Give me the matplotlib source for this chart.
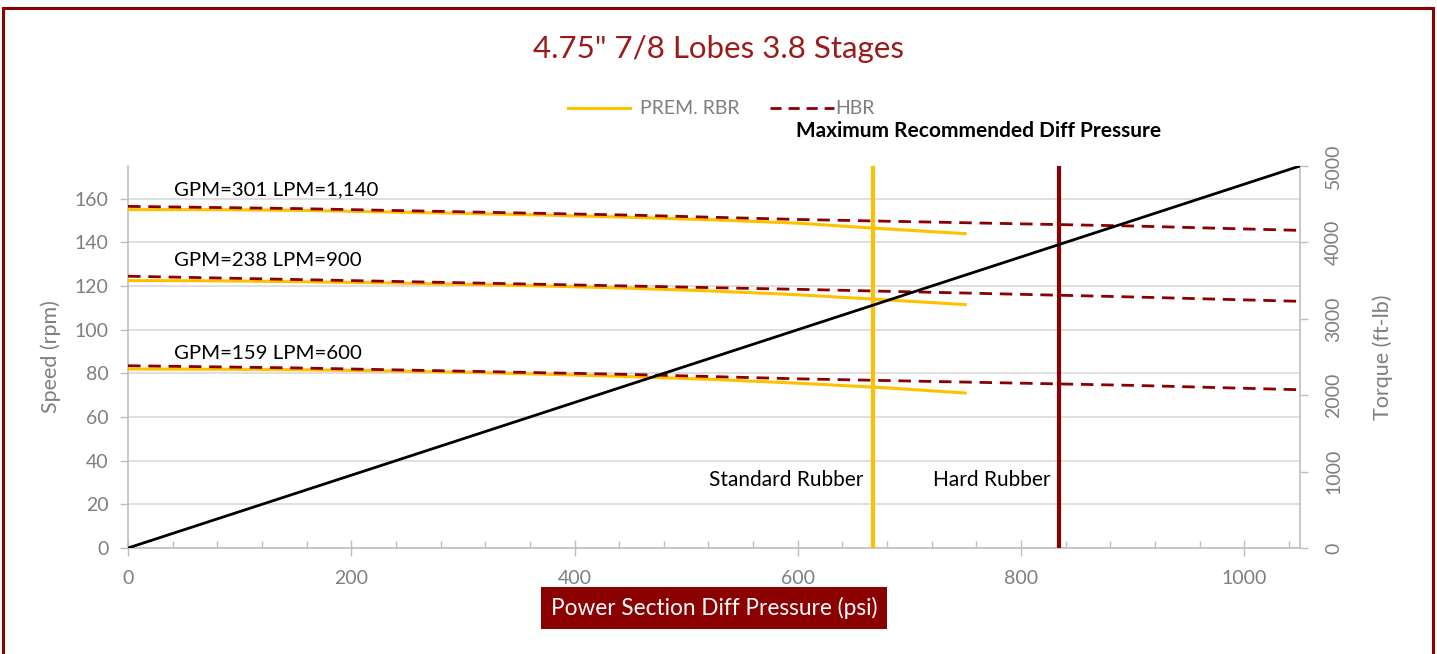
import matplotlib.pyplot as plt
from matplotlib.patches import Rectangle

plt.rcParams['font.family'] = ['Lato', 'DejaVu Sans']

DARK_RED = '#8B0000'
YELLOW = '#FFC000'
GRAY = '#7F7F7F'

# PREM. RBR speed curves (psi -> rpm), end at 750 psi
prem_psi = [0, 75, 150, 225, 300, 375, 450, 525, 600, 675, 750]
prem_301 = [155, 155, 154.7, 154, 153.3, 152.5, 151.5, 150.3, 148.8, 146.3, 144]
prem_238 = [122.5, 122.4, 122, 121.5, 120.8, 120, 119, 117.7, 116, 113.8, 111.5]
prem_159 = [82, 81.9, 81.7, 81.2, 80.5, 79.6, 78.5, 77.2, 75.5, 73.5, 71]

# HBR speed curves, run out to 1050 psi
hbr_psi = [0, 150, 300, 450, 600, 750, 900, 1050]
hbr_301 = [156.5, 155.5, 154, 152.5, 150.5, 149, 147.5, 145.5]
hbr_238 = [124.5, 123, 121.5, 120, 118.5, 116.8, 115, 113]
hbr_159 = [83.5, 82.5, 81, 79.5, 77.5, 76, 74.5, 72.5]

# torque line (right axis)
torque_psi = [0, 1050]
torque_ftlb = [0, 5000]

std_rubber = 667
hard_rubber = 834

flow_labels = ['GPM=301 LPM=1,140', 'GPM=238 LPM=900', 'GPM=159 LPM=600']
flow_label_y = [160, 128, 85]

fig = plt.figure(figsize=(14.37, 6.54), dpi=100)
ax = fig.add_axes([0.0891, 0.1621, 0.9047 - 0.0891, 0.7462 - 0.1621])
ax2 = ax.twinx()

# outer border
fig.patches.append(Rectangle((3 / 1437, -0.05), 1430 / 1437, 1.05 - 8 / 654,
                             transform=fig.transFigure, fill=False,
                             edgecolor=DARK_RED, lw=2.2, zorder=10))

ax.set_xlim(0, 1050)
ax.set_ylim(0, 175)
ax2.set_ylim(0, 5000)

ax.set_yticks(range(0, 161, 20))
ax.yaxis.grid(True, color='#D9D9D9', lw=1.2)
ax.set_axisbelow(True)
ax.set_xticks(range(0, 1001, 200))
ax.set_xticks(range(0, 1050, 40), minor=True)

ax.spines['top'].set_visible(False)
ax2.spines['top'].set_visible(False)
ax.spines['right'].set_visible(False)
for s in ['left', 'bottom']:
    ax.spines[s].set_color('#BFBFBF')
    ax.spines[s].set_linewidth(1.2)
ax2.spines['right'].set_color('#BFBFBF')
ax2.spines['right'].set_linewidth(1.2)
ax2.spines['left'].set_visible(False)
ax2.spines['bottom'].set_visible(False)

ax.tick_params(axis='y', colors='#BFBFBF', labelcolor=GRAY, labelsize=14, length=6, width=1, pad=8)
ax.tick_params(axis='x', which='major', direction='inout', colors='#BFBFBF', labelcolor=GRAY,
               labelsize=14, length=12, width=1, pad=10)
ax.tick_params(axis='x', which='minor', direction='in', colors='#BFBFBF', length=5, width=1)
ax2.set_yticks(range(0, 5001, 1000))
ax2.tick_params(axis='y', colors='#BFBFBF', labelcolor=GRAY, labelsize=14, length=6, width=1,
                labelrotation=90, pad=12)
for lab in ax2.get_yticklabels():
    lab.set_verticalalignment('center')

# speed curves
ax.plot(prem_psi, prem_301, color=YELLOW, lw=2.2, zorder=3)
ax.plot(prem_psi, prem_238, color=YELLOW, lw=2.2, zorder=3)
ax.plot(prem_psi, prem_159, color=YELLOW, lw=2.2, zorder=3, label='PREM. RBR')
for yy in [hbr_301, hbr_238, hbr_159]:
    ax.plot(hbr_psi, yy, color=DARK_RED, lw=2, dashes=(4.5, 2.8), zorder=4)

ax2.plot(torque_psi, torque_ftlb, color='black', lw=2, zorder=5)

# max recommended diff pressure
ax.axvline(std_rubber, color=YELLOW, lw=3, zorder=6)
ax.axvline(hard_rubber, color=DARK_RED, lw=3, zorder=6)
ax.text(std_rubber - 8, 31, 'Standard Rubber', ha='right', va='center', fontsize=15)
ax.text(hard_rubber - 8, 31, 'Hard Rubber', ha='right', va='center', fontsize=15)

for txt, yy in zip(flow_labels, flow_label_y):
    ax.text(41, yy, txt, ha='left', va='bottom', fontsize=14.7)

ax.set_ylabel('Speed (rpm)', color=GRAY, fontsize=15.5, labelpad=10)
ax2.set_ylabel('Torque (ft-lb)', color=GRAY, fontsize=15.5, labelpad=22)

ax.set_xlabel('Power Section Diff Pressure (psi)', color='white', fontsize=16.3, labelpad=7,
              bbox=dict(boxstyle='square,pad=0.45', facecolor=DARK_RED, edgecolor='none'))

fig.text(0.5, 0.925, '4.75" 7/8 Lobes 3.8 Stages', ha='center', va='center',
         fontsize=22.5, color='#9B1B1B')

# legend drawn by hand to keep it compact
fig.add_artist(plt.Line2D([568 / 1437, 630 / 1437], [1 - 108 / 654] * 2, color=YELLOW, lw=2.2))
fig.text(640 / 1437, 1 - 108 / 654, 'PREM. RBR', ha='left', va='center', fontsize=14, color=GRAY)
fig.add_artist(plt.Line2D([770 / 1437, 834 / 1437], [1 - 108 / 654] * 2, color=DARK_RED, lw=2,
                          dashes=(4, 2.5)))
fig.text(835 / 1437, 1 - 108 / 654, 'HBR', ha='left', va='center', fontsize=14, color=GRAY)
fig.text(979 / 1437, 1 - 131 / 654, 'Maximum Recommended Diff Pressure', ha='center', va='center',
         fontsize=15, fontweight='bold', color='black')

fig.savefig('out.png', dpi=100, facecolor='white')
